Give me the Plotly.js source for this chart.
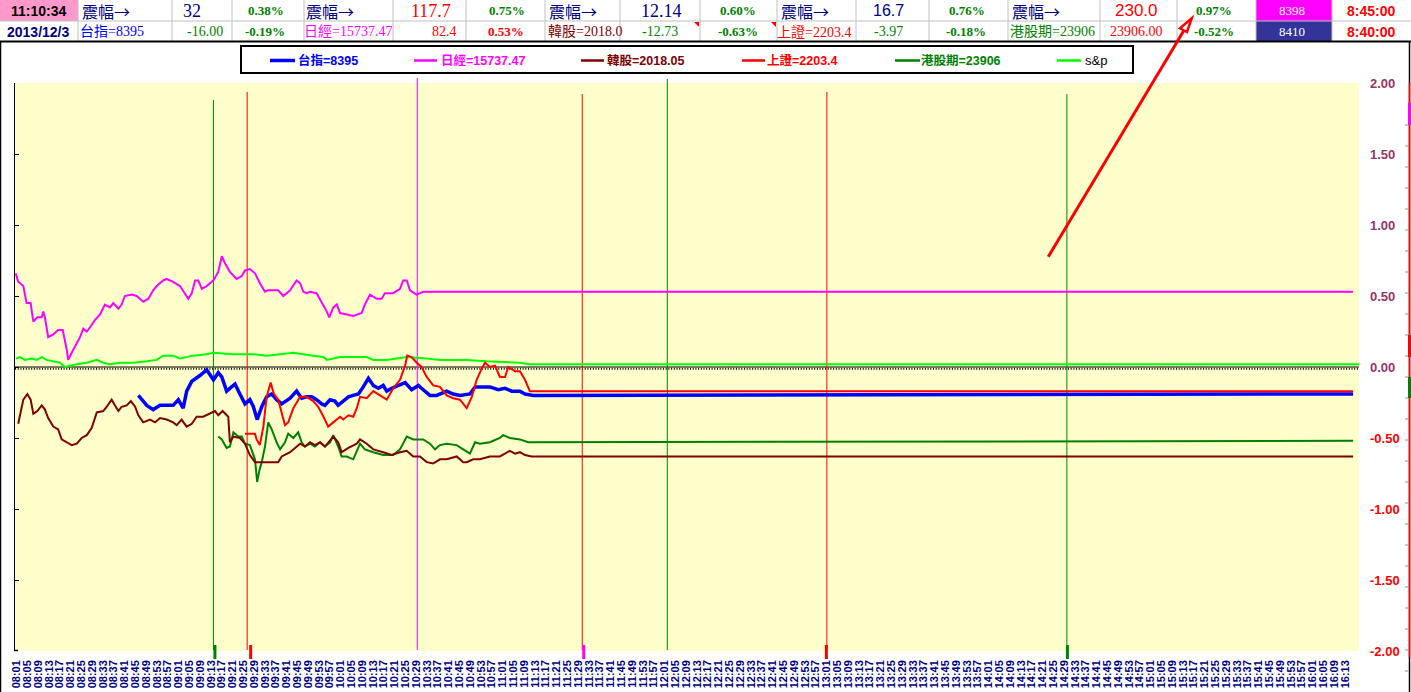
<!DOCTYPE html>
<html><head><meta charset="utf-8">
<script src="https://cdn.plot.ly/plotly-3.0.1.min.js"></script>
<style>html,body{margin:0;padding:0;background:#fff;overflow:hidden}#chart{width:1411px;height:692px}</style>
</head><body><div id="chart"></div>
<script>
// ---------- DATA (time = minutes after 08:00, value = % change) ----------
const seriesNames = ['台指=8395','日經=15737.47','韓股=2018.05','上證=2203.4','港股期=23906','s&amp;p'];
const seriesColors = ['#0000FF','#FF00FF','#800000','#FF0000','#008000','#00FF00'];

const taiex = [[46.1,-.20],[47.3,-.23],[49.2,-.27],[51.6,-.30],[54.1,-.27],[59.0,-.27],[60.9,-.23],[62.7,-.29],[64.0,-.17],[65.9,-.10],[67.7,-.08],[68.9,-.06],[71.4,-.02],[73.9,-.09],[75.7,-.04],[77.0,-.07],[78.8,-.17],[80.0,-.15],[81.9,-.12],[83.7,-.19],[85.6,-.26],[87.4,-.23],[88.7,-.28],[90.1,-.37],[91.8,-.28],[93.6,-.21],[95.5,-.19],[97.3,-.23],[99.2,-.26],[102.3,-.22],[104.7,-.17],[106.6,-.22],[108.4,-.21],[110.3,-.21],[112.1,-.23],[114.0,-.26],[115.2,-.27],[117.1,-.23],[118.9,-.24],[120.1,-.27],[122.0,-.24],[123.9,-.21],[125.7,-.20],[127.6,-.19],[129.4,-.14],[131.3,-.08],[133.1,-.13],[135.0,-.15],[136.8,-.13],[138.1,-.17],[139.9,-.15],[142.4,-.13],[144.9,-.11],[147.3,-.16],[149.8,-.13],[151.6,-.16],[154.1,-.20],[156.6,-.20],[160.3,-.17],[162.7,-.19],[165.2,-.20],[168.9,-.19],[170.8,-.14],[176.3,-.14],[179.4,-.16],[181.9,-.15],[184.4,-.17],[187.4,-.17],[189.3,-.19],[192.4,-.20],[496.0,-.19]];

const nikkei = [[0.7,.66],[1.6,.60],[3.5,.57],[4.7,.45],[6.2,.45],[7.2,.32],[8.7,.35],[10.3,.35],[10.9,.39],[11.5,.35],[12.7,.21],[14.6,.23],[16.4,.26],[18.1,.26],[19.6,.12],[20.1,.05],[21.4,.10],[22.6,.14],[24.5,.21],[25.7,.27],[27.0,.25],[28.2,.28],[30.0,.33],[31.9,.37],[33.7,.44],[35.6,.42],[36.8,.45],[38.7,.41],[39.9,.44],[41.1,.50],[43.6,.51],[45.5,.50],[47.9,.46],[49.8,.48],[51.6,.54],[52.9,.57],[55.3,.61],[56.6,.62],[59.0,.60],[61.5,.57],[64.6,.48],[65.9,.52],[67.1,.61],[68.3,.61],[69.6,.55],[71.4,.57],[73.9,.61],[75.7,.67],[77.0,.78],[78.2,.73],[80.0,.67],[82.5,.62],[84.4,.64],[85.6,.68],[87.4,.69],[89.3,.66],[91.1,.59],[93.0,.53],[94.2,.54],[97.9,.54],[99.8,.50],[102.3,.54],[104.7,.61],[106.0,.59],[107.2,.53],[108.4,.52],[109.7,.53],[112.1,.52],[114.0,.46],[115.9,.39],[116.8,.35],[118.3,.42],[119.6,.44],[120.8,.38],[123.3,.37],[125.7,.36],[128.8,.38],[130.0,.44],[131.9,.51],[134.4,.48],[136.2,.48],[137.4,.52],[140.5,.52],[143.0,.55],[144.2,.61],[145.5,.61],[146.7,.54],[149.1,.51],[151.6,.53],[496.0,.53]];

const kospi = [[1.6,-.40],[2.5,-.31],[3.5,-.23],[5.0,-.19],[6.2,-.23],[7.2,-.33],[8.7,-.31],[10.3,-.27],[11.5,-.30],[12.7,-.36],[14.6,-.42],[16.4,-.44],[17.7,-.51],[19.6,-.53],[21.4,-.55],[23.3,-.54],[25.1,-.50],[27.0,-.48],[28.8,-.43],[30.7,-.32],[33.1,-.31],[34.4,-.28],[36.2,-.23],[37.4,-.27],[38.7,-.31],[39.9,-.28],[41.8,-.27],[43.3,-.24],[44.9,-.28],[46.1,-.34],[47.9,-.39],[50.4,-.37],[52.3,-.39],[54.1,-.36],[56.6,-.37],[59.0,-.39],[60.3,-.41],[62.1,-.37],[64.0,-.42],[65.9,-.40],[67.7,-.35],[70.1,-.35],[72.6,-.33],[74.5,-.31],[75.7,-.34],[77.3,-.31],[79.4,-.35],[80.0,-.53],[81.3,-.49],[83.7,-.50],[85.6,-.54],[87.4,-.62],[89.3,-.67],[91.8,-.67],[94.9,-.67],[97.9,-.67],[99.2,-.63],[102.3,-.60],[106.0,-.54],[107.8,-.56],[109.7,-.53],[111.5,-.55],[113.4,-.53],[115.2,-.56],[118.3,-.49],[120.1,-.53],[121.4,-.60],[123.9,-.57],[127.0,-.54],[128.2,-.51],[130.7,-.54],[133.1,-.58],[136.8,-.60],[139.9,-.62],[143.0,-.60],[145.5,-.59],[147.9,-.63],[150.4,-.63],[152.9,-.67],[155.3,-.68],[157.8,-.65],[160.3,-.65],[164.0,-.63],[166.4,-.67],[167.7,-.67],[170.1,-.65],[172.6,-.65],[176.3,-.63],[180.0,-.63],[183.7,-.59],[185.6,-.61],[187.4,-.60],[189.3,-.62],[191.8,-.63],[496.0,-.63]];

const shanghai = [[85.6,-.47],[89.3,-.47],[89.9,-.51],[91.1,-.55],[92.4,-.42],[93.6,-.21],[95.1,-.11],[96.3,-.19],[97.9,-.23],[99.2,-.33],[100.4,-.41],[101.6,-.39],[103.5,-.29],[106.0,-.21],[108.4,-.21],[110.9,-.24],[112.7,-.28],[114.4,-.34],[116.4,-.42],[118.3,-.39],[120.8,-.35],[122.0,-.37],[123.9,-.34],[125.7,-.35],[127.0,-.29],[128.2,-.21],[130.7,-.22],[133.1,-.17],[135.6,-.20],[138.1,-.23],[140.5,-.15],[143.0,-.09],[144.9,.01],[145.7,.08],[147.3,.07],[149.2,.03],[151.0,.00],[152.9,-.07],[155.3,-.13],[157.8,-.14],[160.3,-.20],[162.7,-.22],[165.2,-.23],[167.7,-.29],[169.6,-.21],[171.4,-.09],[173.3,-.01],[174.5,.03],[176.3,.00],[178.2,.01],[180.0,-.07],[181.9,-.07],[183.1,.00],[185.6,-.03],[187.4,-.03],[189.3,-.09],[191.1,-.17],[496.0,-.17]];

const hsiFut = [[75.7,-.49],[77.0,-.51],[78.8,-.57],[80.0,-.56],[81.3,-.46],[83.1,-.49],[84.4,-.49],[85.6,-.54],[87.4,-.55],[89.3,-.65],[90.1,-.81],[90.9,-.73],[91.8,-.67],[93.0,-.56],[94.2,-.39],[95.5,-.44],[97.3,-.53],[98.6,-.58],[100.4,-.53],[101.6,-.47],[103.5,-.50],[105.3,-.46],[106.6,-.53],[107.8,-.56],[109.7,-.54],[111.5,-.56],[113.4,-.53],[115.2,-.56],[117.1,-.53],[118.3,-.48],[120.1,-.56],[121.4,-.63],[123.3,-.63],[125.7,-.65],[128.2,-.54],[130.0,-.58],[133.1,-.60],[136.8,-.62],[140.5,-.62],[143.0,-.58],[145.5,-.49],[147.9,-.51],[151.6,-.51],[154.1,-.54],[156.0,-.58],[157.8,-.55],[160.3,-.54],[164.0,-.55],[166.4,-.58],[168.9,-.61],[170.8,-.53],[172.6,-.54],[176.3,-.53],[180.0,-.50],[181.2,-.48],[183.7,-.50],[187.4,-.51],[190.5,-.53],[496.0,-.52]];

const snp = [[0.7,.06],[2.3,.07],[4.1,.05],[6.6,.06],[8.4,.05],[10.3,.07],[12.1,.05],[14.6,.04],[17.1,.03],[18.9,.00],[20.8,.01],[23.3,.02],[27.0,.03],[30.7,.05],[33.1,.03],[35.6,.02],[39.3,.03],[44.2,.03],[49.2,.04],[52.9,.05],[55.3,.08],[59.0,.08],[61.5,.06],[64.0,.07],[66.4,.08],[71.4,.09],[73.9,.10],[81.3,.09],[88.7,.09],[93.6,.08],[103.5,.10],[110.9,.08],[114.6,.07],[115.9,.05],[120.8,.07],[130.7,.07],[133.1,.05],[138.1,.05],[145.5,.07],[152.9,.06],[157.8,.05],[167.7,.05],[175.1,.04],[187.4,.03],[191.1,.02],[498.2,.02]];

// session marker times (minutes after 08:00)
const sessionT = [73.9, 86.4, 149.4, 210.5, 242.0, 301.1, 390.0];
const sessionColors = ['#008000','#FF0000','#FF00FF','#FF0000','#008000','#FF0000','#008000'];

// right axis ticks
const yTickVals = [2, 1.5, 1, 0.5, 0, -0.5, -1, -1.5, -2];
const yTickLabels = ['2.00','1.50','1.00','0.50','0.00','-0.50','-1.00','-1.50','-2.00'];

// header table texts
const hdrRow1 = ['11:10:34','震幅→','32','0.38%','震幅→','117.7','0.75%','震幅→','12.14','0.60%','震幅→','16.7','0.76%','震幅→','230.0','0.97%','8398','8:45:00'];
const hdrRow2 = ['2013/12/3','台指=8395','-16.00','-0.19%','日經=15737.47','82.4','0.53%','韓股=2018.0','-12.73','-0.63%','上證=2203.4','-3.97','-0.18%','港股期=23906','23906.00','-0.52%','8410','8:40:00'];

// ---------- LAYOUT HELPERS ----------
const L = 15, R = 1359, T = 83, B = 651;
const fx = px => (px - L) / (R - L);
const fy = py => (B - py) / (B - T);
const SERIF = 'Liberation Serif, "Times New Roman", "Noto Sans CJK TC", serif';
const SANS = 'Liberation Sans, Arial, "Noto Sans CJK TC", sans-serif';
const CJK = '"Noto Sans CJK TC", "Noto Sans CJK SC", sans-serif';

// x tick labels every 4 minutes from 08:01
const xTickVals = [], xTickText = [];
for (let m = 1; m <= 493; m += 4) {
  xTickVals.push(m);
  xTickText.push(String(8 + Math.floor(m / 60)).padStart(2, '0') + ':' + String(m % 60).padStart(2, '0'));
}

function tr(pairs, color, width, name) {
  return {type: 'scatter', mode: 'lines', x: pairs.map(p => p[0]), y: pairs.map(p => p[1]),
          line: {color: color, width: width}, name: name, hoverinfo: 'skip', showlegend: false};
}
const traces = [
  tr(snp, seriesColors[5], 2, 's&p'),
  tr(nikkei, seriesColors[1], 2, seriesNames[1]),
  tr(hsiFut, seriesColors[4], 2, seriesNames[4]),
  tr(kospi, seriesColors[2], 2, seriesNames[2]),
  tr(taiex, seriesColors[0], 3.5, seriesNames[0]),
  tr(shanghai, seriesColors[3], 2, seriesNames[3]),
  {type: 'scatter', x: [null], y: [null], yaxis: 'y2', showlegend: false, hoverinfo: 'skip'}
];

const shapes = [];
const annotations = [];
function pline(x0, y0, x1, y1, color, width, layer) {
  shapes.push({type: 'line', xref: 'paper', yref: 'paper', x0: fx(x0), y0: fy(y0), x1: fx(x1), y1: fy(y1),
               line: {color: color, width: width}, layer: layer || 'above'});
}
function prect(x0, y0, x1, y1, fill, lineColor, lw) {
  shapes.push({type: 'rect', xref: 'paper', yref: 'paper', x0: fx(x0), y0: fy(y0), x1: fx(x1), y1: fy(y1),
               fillcolor: fill, line: {color: lineColor || fill, width: lw || 0}, layer: 'above'});
}

// zero line (solid + minute ruler dots)
shapes.push({type: 'line', xref: 'paper', yref: 'y', x0: 0, x1: 1, y0: 0, y1: 0, line: {color: '#000', width: 1}, layer: 'below'});
shapes.push({type: 'line', xref: 'paper', yref: 'y', x0: 0, x1: 1, y0: -0.013, y1: -0.013, line: {color: '#000', width: 2, dash: '1px,1.7px'}, layer: 'below'});

// session vertical lines and bottom marks
const sessionTop = [100, 92, 78, 94, 79, 92, 94];
const markOffset = [0, 2, null, 0, null, -2, -1];
const markColor = ['#008000', '#FF0000', null, '#FF00FF', null, '#FF0000', '#008000'];
sessionT.forEach((m, i) => {
  shapes.push({type: 'line', xref: 'x', yref: 'paper', x0: m, x1: m, y0: fy(650), y1: fy(sessionTop[i]),
               line: {color: sessionColors[i], width: 1}, layer: 'below'});
  if (markColor[i]) {
    shapes.push({type: 'rect', xref: 'x', xsizemode: 'pixel', xanchor: m, x0: markOffset[i], x1: markOffset[i] + 3,
                 yref: 'paper', y0: fy(659), y1: fy(645), fillcolor: markColor[i], line: {width: 0}, layer: 'above'});
  }
});

// ---------- HEADER TABLE ----------
const colEdges = [0, 78, 172, 232, 304, 393, 466, 545, 620, 700, 777, 856, 929, 1008, 1100, 1177, 1256, 1332, 1411];
prect(0, 0, 78, 21, '#FF99CC');
prect(1256, 0, 1332, 21, '#FF00FF');
prect(1256, 21, 1332, 41, '#333399');
colEdges.slice(1, -1).forEach(x => pline(x, 0, x, 41, '#C0C0C0', 1));
pline(0, 21, 1411, 21, '#C0C0C0', 1);
pline(0, 41.5, 1411, 41.5, '#000000', 2);
// comment markers
[[694, 699], [771, 776]].forEach(p => {
  shapes.push({type: 'path', xref: 'paper', yref: 'paper',
    path: `M ${fx(p[0])} ${fy(22)} L ${fx(p[1])} ${fy(22)} L ${fx(p[1])} ${fy(27)} Z`,
    fillcolor: '#FF0000', line: {width: 0}, layer: 'above'});
});

const FS = {
  tB14: {family: SANS, size: 14, weight: 'bold'},
  f16: {family: CJK, size: 16},
  v18: {family: SERIF, size: 18},
  pB13: {family: SERIF, size: 13, weight: 'bold'},
  s16: {family: SANS, size: 16},
  s17: {family: SANS, size: 17},
  n14: {family: SERIF, size: 14},
  w13: {family: SERIF, size: 13}
};
const row1Font = ['tB14','f16','v18','pB13','f16','v18','pB13','f16','v18','pB13','f16','s16','pB13','f16','s17','pB13','w13','tB14'];
const row2Font = ['tB14','n14','n14','pB13','n14','n14','pB13','n14','n14','pB13','n14','n14','pB13','n14','n14','pB13','w13','tB14'];
const row1Color = ['#000000','#000080','#000080','#008000','#000080','#FF0000','#008000','#000080','#000080','#008000','#000080','#000080','#008000','#000080','#FF0000','#008000','#FFFFFF','#FF0000'];
const row2Color = ['#000080','#0000FF','#008000','#008000','#FF00FF','#FF0000','#FF0000','#800000','#008000','#008000','#FF0000','#008000','#008000','#008000','#FF0000','#008000','#FFFFFF','#FF0000'];
const row1X = [38, 81, 192, 266, 305, 431, 507, 548, 661, 738, 780, 888, 967, 1011, 1136, 1214, 1292, 1371];
const row2X = [38, 79, 205, 265, 303, 445, 506, 547, 660, 738, 776, 888, 966, 1009, 1136, 1214, 1292, 1371];
const leftCols = [1, 4, 7, 10, 13];
function hdr(text, px, py, fontKey, color, left) {
  annotations.push({xref: 'paper', yref: 'paper', x: fx(px), y: fy(py), text: text, showarrow: false,
    xanchor: left ? 'left' : 'center', yanchor: 'middle', borderpad: 0,
    font: Object.assign({color: color}, FS[fontKey])});
}
hdrRow1.forEach((t, i) => hdr(t, row1X[i], 10.5, row1Font[i], row1Color[i], leftCols.includes(i)));
hdrRow2.forEach((t, i) => hdr(t, row2X[i], 31.5, row2Font[i], row2Color[i], leftCols.includes(i)));

// ---------- LEGEND BOX ----------
prect(241, 46, 1133, 73, '#FFFFFF', '#000000', 2);
const legLineX = [[270, 295], [414, 437], [581, 604], [742, 765], [895, 920], [1057, 1081]];
const legTextX = [297, 440, 606, 766, 920, 1084];
const legOrder = [0, 1, 2, 3, 4, 5];
legOrder.forEach((k, i) => {
  pline(legLineX[i][0], 60.5, legLineX[i][1], 60.5, seriesColors[k], k === 0 ? 3.5 : 2.5);
  annotations.push({xref: 'paper', yref: 'paper', x: fx(legTextX[i]), y: fy(60), text: seriesNames[k], showarrow: false,
    xanchor: 'left', yanchor: 'middle', borderpad: 0,
    font: k === 5 ? {family: SANS, size: 13, color: '#000000'} : {family: SANS, size: 12.5, color: seriesColors[k], weight: 'bold'}});
});

// ---------- BORDERS / RIGHT INDICATOR ----------
pline(0.5, 41, 0.5, 692, '#000000', 1.5);
pline(1409.5, 41, 1409.5, 692, '#000000', 1.5);
pline(1409.5, 83, 1409.5, 657, '#FF0000', 1.5);
for (let k = 0; k <= 26; k++) { const y = 125 + 21 * k; pline(1405, y, 1408.5, y, '#909090', 1); }
prect(1408, 103, 1411, 125, '#FF00FF');
prect(1408, 335, 1411, 357, '#FF0000');
prect(1408, 377, 1411, 398, '#008000');
pline(15, 650.5, 18, 650.5, '#000000', 1.5);

// ---------- ARROW ----------
pline(1048.3, 256.7, 1184.5, 29.5, '#FF0000', 3);
shapes.push({type: 'path', xref: 'paper', yref: 'paper',
  path: `M ${fx(1191.7)} ${fy(18.3)} L ${fx(1180)} ${fy(28.3)} L ${fx(1187)} ${fy(32)} Z`,
  fillcolor: '#FFFFFF', line: {color: '#FF0000', width: 2.5}, layer: 'above'});

const layout = {
  width: 1411, height: 692,
  margin: {l: L, r: 1411 - R, t: T, b: 692 - B, pad: 0},
  paper_bgcolor: '#FFFFFF', plot_bgcolor: '#FFFFCC', showlegend: false,
  xaxis: {range: [0.41, 498.19], tickmode: 'array', tickvals: xTickVals, ticktext: xTickText, tickangle: -90,
          tickfont: {family: SANS, size: 11, color: '#000080', weight: 'bold'}, ticks: '', ticklabelstandoff: 6,
          showgrid: false, zeroline: false, showline: false, fixedrange: true, automargin: false},
  yaxis: {range: [-2, 2], side: 'right', tickmode: 'array', tickvals: yTickVals,
          ticktext: yTickLabels.map((t, i) => yTickVals[i] < 0 ? '<span style="color:#FF0000">' + t + '</span>' : t),
          tickfont: {family: SANS, size: 13, color: '#993366', weight: 'bold'}, ticks: '', ticklabelstandoff: 10,
          showgrid: false, zeroline: false, showline: false, fixedrange: true, automargin: false},
  yaxis2: {range: [-2, 2], overlaying: 'y', side: 'left', showline: true, linecolor: '#000000', linewidth: 1.5,
           ticks: 'inside', ticklen: 4, tickwidth: 1, tickcolor: '#000000', tickmode: 'linear', tick0: 0, dtick: 0.5,
           showticklabels: false, showgrid: false, zeroline: false, fixedrange: true, automargin: false},
  shapes: shapes,
  annotations: annotations
};

Plotly.newPlot('chart', traces, layout, {staticPlot: true, displayModeBar: false});
</script>
</body></html>
